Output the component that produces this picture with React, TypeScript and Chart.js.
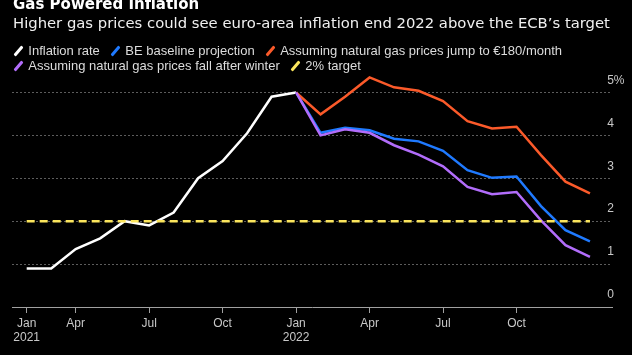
import React, { useEffect, useRef } from "react";
import { Chart, registerables } from "chart.js";

Chart.register(...registerables);

// ---------- DATA ----------
const titleText = "Gas Powered Inflation";
const subtitleText = "Higher gas prices could see euro-area inflation end 2022 above the ECB’s target";

const months = [
  "Jan 2021", "Feb 2021", "Mar 2021", "Apr 2021", "May 2021", "Jun 2021",
  "Jul 2021", "Aug 2021", "Sep 2021", "Oct 2021", "Nov 2021", "Dec 2021",
  "Jan 2022", "Feb 2022", "Mar 2022", "Apr 2022", "May 2022", "Jun 2022",
  "Jul 2022", "Aug 2022", "Sep 2022", "Oct 2022", "Nov 2022", "Dec 2022",
];

const actualMonths = months.slice(0, 12); // Jan 2021 .. Dec 2021
const projectionMonths = months.slice(11); // Dec 2021 .. Dec 2022

const inflationRate = [0.9, 0.9, 1.35, 1.6, 2.0, 1.9, 2.2, 3.0, 3.4, 4.05, 4.9, 5.0];
const baselineProjection = [5.0, 4.06, 4.18, 4.12, 3.92, 3.86, 3.64, 3.19, 3.01, 3.04, 2.35, 1.79, 1.53];
const gasJumpProjection = [5.0, 4.49, 4.9, 5.35, 5.12, 5.04, 4.8, 4.33, 4.16, 4.2, 3.54, 2.92, 2.65];
const gasFallProjection = [5.0, 4.0, 4.14, 4.06, 3.77, 3.55, 3.28, 2.8, 2.63, 2.68, 2.02, 1.44, 1.17];
const targetValues = [2, 2, 2, 2, 2, 2, 2, 2, 2, 2, 2, 2, 2, 2, 2, 2, 2, 2, 2, 2, 2, 2, 2, 2];

const seriesNames = [
  "Inflation rate",
  "BE baseline projection",
  "Assuming natural gas prices jump to €180/month",
  "Assuming natural gas prices fall after winter",
  "2% target",
];
const seriesColors = ["#ffffff", "#1f7aff", "#fb5a2a", "#b26dfb", "#fbe55c"];

// x-axis tick marks: month label -> tick text
const xTickMonths = ["Jan 2021", "Mar 2021", "Jun 2021", "Sep 2021", "Dec 2021", "Mar 2022", "Jun 2022", "Sep 2022"];
const xTickLabels: (string | string[])[] = [["Jan", "2021"], "Apr", "Jul", "Oct", ["Jan", "2022"], "Apr", "Jul", "Oct"];

const yTicks = [0, 1, 2, 3, 4, 5];

// ---------- HELPERS ----------
const toPoints = (labels: string[], values: number[]) =>
  values.map((v, i) => ({ x: months.indexOf(labels[i]), y: v }));

const legendFont = '13px "Liberation Sans", Arial, sans-serif';

export default function App() {
  const ref = useRef<HTMLCanvasElement>(null);

  useEffect(() => {
    const canvas = ref.current;
    if (!canvas) return;
    const tickFont = { family: '"Liberation Sans", Arial, sans-serif', size: 12 };
    const line = (i: number, data: { x: number; y: number }[], order: number, extra: any = {}) => ({
      label: seriesNames[i],
      data,
      borderColor: seriesColors[i],
      backgroundColor: seriesColors[i],
      borderWidth: 2.5,
      pointRadius: 0,
      pointHoverRadius: 0,
      tension: 0,
      fill: false,
      order,
      ...extra,
    });

    const chart = new Chart(canvas, {
      type: "line",
      data: {
        datasets: [
          line(0, toPoints(actualMonths, inflationRate), 4),
          line(1, toPoints(projectionMonths, baselineProjection), 3),
          line(2, toPoints(projectionMonths, gasJumpProjection), 2),
          line(3, toPoints(projectionMonths, gasFallProjection), 1),
          line(4, toPoints(months, targetValues), 0, { borderDash: [8, 5] }),
        ],
      },
      options: {
        animation: false,
        responsive: false,
        maintainAspectRatio: false,
        devicePixelRatio: 1,
        layout: { padding: { left: 12, right: 0, top: 71, bottom: 0 } },
        plugins: {
          legend: { display: false },
          tooltip: { enabled: false },
          title: { display: false },
        },
        events: [],
        scales: {
          x: {
            type: "linear",
            min: -0.6,
            max: 23.9,
            afterBuildTicks: (axis: any) => {
              axis.ticks = xTickMonths.map((m) => ({ value: months.indexOf(m) }));
            },
            afterFit: (axis: any) => {
              axis.height = 48;
            },
            ticks: {
              autoSkip: false,
              maxRotation: 0,
              minRotation: 0,
              padding: 3.5,
              color: "#c8c8c8",
              font: tickFont,
              callback: (_v: any, index: number) => xTickLabels[index],
            },
            grid: {
              drawOnChartArea: false,
              drawTicks: true,
              tickLength: 6,
              color: "#a0a0a0",
              lineWidth: 1,
            },
            border: { display: true, color: "#a0a0a0", width: 1 },
          },
          y: {
            type: "linear",
            position: "right",
            min: 0,
            max: 5.5,
            afterBuildTicks: (axis: any) => {
              axis.ticks = yTicks.map((v) => ({ value: v }));
            },
            afterFit: (axis: any) => {
              axis.width = 20;
            },
            ticks: {
              mirror: true,
              padding: 12.5,
              crossAlign: "far",
              labelOffset: -12,
              color: "#c8c8c8",
              font: tickFont,
              callback: (v: any) => (v === 5 ? "5%" : String(v)),
            },
            grid: {
              drawTicks: false,
              lineWidth: 1,
              color: (ctx: any) => (ctx.tick && ctx.tick.value === 0 ? "rgba(0,0,0,0)" : "#5c5c5c"),
            },
            border: { display: false, dash: [2, 2] },
          },
        },
      } as any,
    });
    return () => chart.destroy();
  }, []);

  const rows = [
    [0, 1, 2],
    [3, 4],
  ];

  return (
    <div
      style={{
        position: "fixed",
        left: 0,
        top: 0,
        width: 632,
        height: 355,
        background: "#000",
        overflow: "hidden",
      }}
    >
      <canvas
        ref={ref}
        width={632}
        height={355}
        style={{ position: "absolute", left: 0, top: 0, width: 632, height: 355 }}
      />
      <div
        style={{
          position: "absolute",
          left: 13,
          top: -5.2,
          font: 'bold 15px "DejaVu Sans", sans-serif',
          lineHeight: "18px",
          color: "#ffffff",
          whiteSpace: "nowrap",
        }}
      >
        {titleText}
      </div>
      <div
        style={{
          position: "absolute",
          left: 13,
          top: 14.2,
          font: '14.8px "DejaVu Sans", sans-serif',
          lineHeight: "18px",
          color: "#f0f0f0",
          whiteSpace: "nowrap",
        }}
      >
        {subtitleText}
      </div>
      {rows.map((row, r) => (
        <div
          key={r}
          style={{
            position: "absolute",
            left: 12.8,
            top: 43 + r * 15,
            display: "flex",
            alignItems: "center",
            height: 15,
            font: legendFont,
            lineHeight: "15px",
            color: "#dcdcdc",
            whiteSpace: "nowrap",
          }}
        >
          {row.map((i) => (
            <span key={i} style={{ display: "inline-flex", alignItems: "center", marginRight: 10 }}>
              <span
                style={{
                  display: "inline-block",
                  width: 3,
                  height: 12,
                  borderRadius: 1,
                  background: seriesColors[i],
                  transform: "rotate(40deg)",
                  margin: "0 8.5px 0 4px",
                }}
              />
              <span>{seriesNames[i]}</span>
            </span>
          ))}
        </div>
      ))}
    </div>
  );
}
